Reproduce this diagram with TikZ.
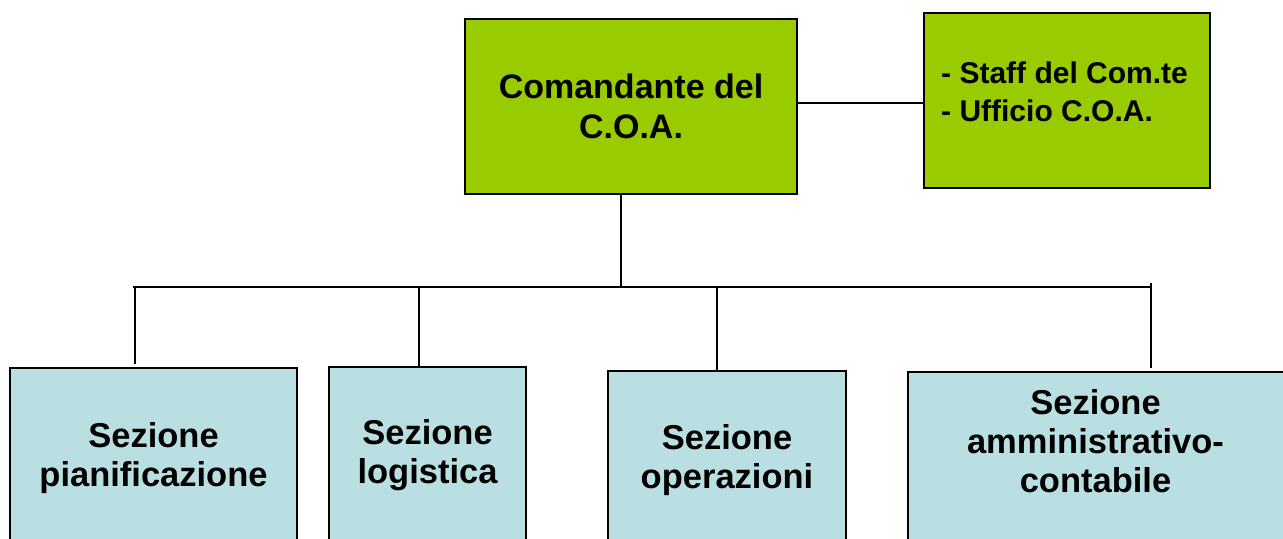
\documentclass[tikz,border=0pt]{standalone}
\usepackage{fontspec}
\setmainfont{Liberation Sans}
\definecolor{boxgreen}{HTML}{99CC00}
\definecolor{boxblue}{HTML}{B9DFE2}
\begin{document}
\begin{tikzpicture}[x=1bp,y=-1bp,
  greenbox/.style={draw=black, line width=1.6bp, fill=boxgreen, inner sep=0pt},
  bluebox/.style={draw=black, line width=1.6bp, fill=boxblue, inner sep=0pt, anchor=north},
  seclabel/.style={align=center, font=\fontsize{34.5bp}{39bp}\selectfont\bfseries, inner sep=0pt},
  conn/.style={draw=black, line width=1.6bp}]
\useasboundingbox (0,0) rectangle (1283,539);
\fill[white] (0,0) rectangle (1283,539);
% top boxes
\node[greenbox, minimum width=332bp, minimum height=175bp, align=center,
      font=\fontsize{34bp}{40bp}\selectfont\bfseries] (cmd) at (631,106.5) {Comandante del\\C.O.A.};
\node[greenbox, minimum width=286bp, minimum height=175bp] (staff) at (1067,100.5) {};
\node[align=left, font=\fontsize{30bp}{38bp}\selectfont\bfseries, inner sep=0pt, anchor=north west] (stafftxt) at (941,62) {- Staff del Com.te\\- Ufficio C.O.A.};
% section boxes
\node[bluebox, minimum width=287bp, minimum height=200bp] (s1) at (153.5,367) {};
\node[bluebox, minimum width=197bp, minimum height=200bp] (s2) at (427.5,366) {};
\node[bluebox, minimum width=238bp, minimum height=200bp] (s3) at (727,370) {};
\node[bluebox, minimum width=380bp, minimum height=200bp] (s4) at (1098,371) {};
\node[seclabel] (t1) at (153.5,458) {Sezione\\pianificazione};
\node[seclabel] (t2) at (427.5,455) {Sezione\\logistica};
\node[seclabel] (t3) at (727,460) {Sezione\\operazioni};
\node[seclabel] (t4) at (1095.5,441) {Sezione\\amministrativo-\\contabile};
% connectors
\coordinate (link) at (797,103);
\coordinate (hub) at (621,287);
\coordinate (busL) at (133,287);
\coordinate (busR) at (1152,287);
\coordinate (d1) at (135,287);
\coordinate (d2) at (419,287);
\coordinate (d3) at (717,287);
\coordinate (d4) at (1151,283);
\draw[conn] (link) -- (link -| staff.west);
\draw[conn] (cmd.south -| hub) -- (hub);
\draw[conn] (busL) -- (busR);
\draw[conn] (d1) -- ([yshift=3bp]d1 |- s1.north);
\draw[conn] (d2) -- (d2 |- s2.north);
\draw[conn] (d3) -- (d3 |- s3.north);
\draw[conn] (d4) -- ([yshift=3bp]d4 |- s4.north);
\end{tikzpicture}
\end{document}
